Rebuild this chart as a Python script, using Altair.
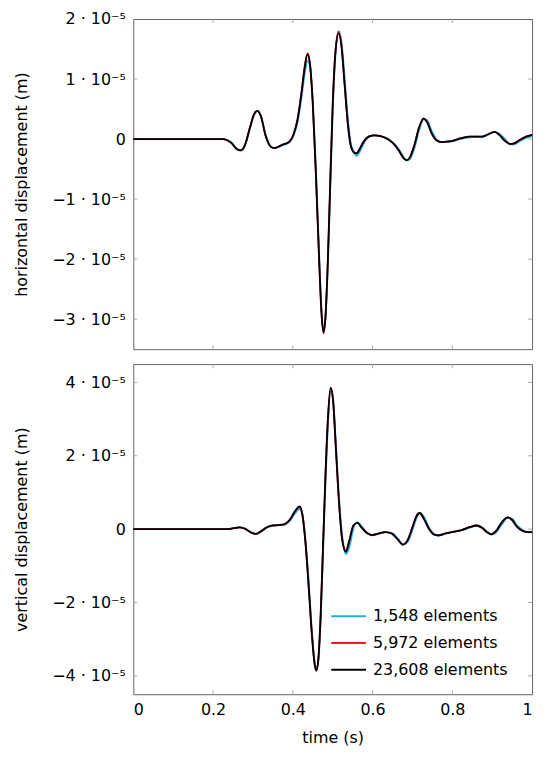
import altair as alt
import pandas as pd

FONT = "DejaVu Sans"
W, H = 401, 332

# series names and colours
names = ["1,548 elements", "5,972 elements", "23,608 elements"]
colors = ["#1fb0ec", "#ee1c24", "#000000"]

x_ticks = [0, 0.2, 0.4, 0.6, 0.8, 1]

# ---- horizontal displacement (values in units of 1e-5 m) ----
th = [0.0, 0.1, 0.2, 0.225, 0.245, 0.26, 0.269, 0.28, 0.292, 0.302,
      0.311, 0.32, 0.332, 0.345, 0.354, 0.372, 0.392, 0.402, 0.412, 0.422,
      0.43, 0.437, 0.443, 0.45, 0.458, 0.466, 0.472, 0.477, 0.482, 0.488,
      0.494, 0.5, 0.507, 0.515, 0.522, 0.53, 0.538, 0.545, 0.553, 0.56,
      0.568, 0.578, 0.59, 0.605, 0.62, 0.635, 0.65, 0.665, 0.678, 0.686,
      0.694, 0.705, 0.716, 0.728, 0.737, 0.748, 0.76, 0.773, 0.79, 0.805,
      0.82, 0.844, 0.86, 0.873, 0.89, 0.906, 0.918, 0.932, 0.945, 0.955,
      0.97, 0.985, 1.0]
h_black = [0, 0, 0, 0, -0.06, -0.17, -0.19, -0.10, 0.18, 0.40,
           0.47, 0.38, 0.05, -0.13, -0.15, -0.10, -0.04, 0.08, 0.33, 0.78,
           1.20, 1.41, 1.25, 0.60, -0.60, -2.00, -2.90, -3.22, -2.95, -2.00,
           -0.70, 0.55, 1.45, 1.76, 1.55, 0.90, 0.25, -0.10, -0.22, -0.24,
           -0.16, -0.04, 0.04, 0.06, 0.05, 0.01, -0.06, -0.18, -0.32, -0.35,
           -0.30, -0.10, 0.18, 0.34, 0.28, 0.10, -0.02, -0.05, -0.04, -0.02,
           0.01, 0.04, 0.04, 0.04, 0.08, 0.12, 0.07, -0.03, -0.08, -0.07,
           -0.01, 0.04, 0.07]
h_red = [0, 0, 0, 0, -0.06, -0.17, -0.19, -0.10, 0.18, 0.40,
         0.47, 0.38, 0.05, -0.13, -0.15, -0.10, -0.04, 0.08, 0.33, 0.79,
         1.22, 1.43, 1.26, 0.60, -0.60, -2.00, -2.91, -3.24, -2.96, -2.00,
         -0.70, 0.56, 1.47, 1.79, 1.57, 0.91, 0.26, -0.10, -0.22, -0.24,
         -0.16, -0.04, 0.04, 0.06, 0.05, 0.01, -0.06, -0.18, -0.32, -0.35,
         -0.30, -0.10, 0.18, 0.34, 0.28, 0.10, -0.02, -0.05, -0.04, -0.02,
         0.01, 0.04, 0.04, 0.04, 0.08, 0.12, 0.07, -0.03, -0.08, -0.07,
         -0.01, 0.04, 0.07]
h_cyan = [0, 0, 0, 0, -0.05, -0.16, -0.19, -0.11, 0.16, 0.39,
          0.47, 0.39, 0.07, -0.12, -0.15, -0.11, -0.05, 0.06, 0.28, 0.70,
          1.10, 1.30, 1.22, 0.66, -0.50, -1.92, -2.85, -3.20, -2.98, -2.08,
          -0.82, 0.45, 1.40, 1.80, 1.62, 1.02, 0.35, -0.05, -0.22, -0.28,
          -0.21, -0.07, 0.03, 0.06, 0.05, 0.02, -0.05, -0.16, -0.30, -0.36,
          -0.33, -0.15, 0.13, 0.33, 0.31, 0.14, 0.00, -0.05, -0.05, -0.03,
          0.00, 0.03, 0.04, 0.03, 0.07, 0.12, 0.09, 0.00, -0.09, -0.09,
          -0.03, 0.02, 0.05]
h_ticks = [-3, -2, -1, 0, 1, 2]
h_domain = [-3.5, 2]

# ---- vertical displacement (values in units of 1e-5 m) ----
tv = [0.0, 0.1, 0.2, 0.235, 0.252, 0.267, 0.28, 0.295, 0.307, 0.32,
      0.335, 0.35, 0.365, 0.378, 0.392, 0.405, 0.417, 0.424, 0.432, 0.44,
      0.448, 0.455, 0.459, 0.464, 0.47, 0.476, 0.482, 0.488, 0.495, 0.501,
      0.508, 0.516, 0.524, 0.533, 0.542, 0.552, 0.562, 0.572, 0.585, 0.599,
      0.615, 0.632, 0.648, 0.663, 0.676, 0.688, 0.7, 0.71, 0.718, 0.728,
      0.742, 0.755, 0.765, 0.785, 0.805, 0.825, 0.845, 0.861, 0.875, 0.889,
      0.898, 0.91, 0.925, 0.939, 0.95, 0.962, 0.977, 0.99, 1.0]
v_black = [0, 0, 0, 0, 0.03, 0.05, 0.01, -0.09, -0.13, -0.06,
           0.05, 0.10, 0.11, 0.13, 0.25, 0.48, 0.62, 0.40, -0.40, -1.60,
           -2.90, -3.70, -3.86, -3.55, -2.30, -0.40, 1.50, 3.00, 3.85, 3.50,
           2.20, 0.70, -0.30, -0.62, -0.30, 0.10, 0.17, 0.05, -0.10, -0.16,
           -0.12, -0.08, -0.12, -0.28, -0.42, -0.30, 0.05, 0.35, 0.44, 0.30,
           0.00, -0.15, -0.17, -0.11, -0.07, -0.02, 0.06, 0.10, 0.03, -0.10,
           -0.14, -0.05, 0.20, 0.32, 0.25, 0.07, -0.05, -0.08, -0.08]
v_red = [0, 0, 0, 0, 0.03, 0.05, 0.01, -0.09, -0.13, -0.06,
         0.05, 0.10, 0.11, 0.13, 0.25, 0.47, 0.60, 0.40, -0.38, -1.58,
         -2.88, -3.69, -3.84, -3.55, -2.32, -0.42, 1.48, 2.98, 3.86, 3.52,
         2.22, 0.72, -0.28, -0.58, -0.30, 0.10, 0.17, 0.05, -0.10, -0.16,
         -0.12, -0.08, -0.12, -0.28, -0.42, -0.30, 0.05, 0.35, 0.44, 0.30,
         0.00, -0.15, -0.17, -0.11, -0.07, -0.02, 0.06, 0.10, 0.03, -0.10,
         -0.14, -0.05, 0.20, 0.32, 0.25, 0.07, -0.05, -0.08, -0.08]
v_cyan = [0, 0, 0, 0, 0.03, 0.05, 0.02, -0.08, -0.13, -0.07,
          0.04, 0.09, 0.11, 0.12, 0.22, 0.42, 0.55, 0.40, -0.30, -1.45,
          -2.80, -3.65, -3.82, -3.60, -2.45, -0.60, 1.30, 2.85, 3.80, 3.55,
          2.35, 0.85, -0.18, -0.68, -0.48, 0.02, 0.19, 0.09, -0.08, -0.17,
          -0.13, -0.08, -0.10, -0.25, -0.42, -0.35, -0.02, 0.30, 0.45, 0.35,
          0.04, -0.14, -0.18, -0.12, -0.07, -0.03, 0.05, 0.10, 0.05, -0.08,
          -0.15, -0.09, 0.14, 0.31, 0.29, 0.11, -0.03, -0.09, -0.09]
v_ticks = [-4, -2, 0, 2, 4]
v_domain = [-4.5, 4.5]

LABEL_EXPR = ("datum.value == 0 ? '0' : "
              "replace(format(round(datum.value * 1e5), 'd'), '-', '\u2212') + ' \u00b7 10\u207b\u2075'")


def panel(t, series, yticks, ydom, ytitle, bottom):
    rows = []
    for k, (name, vals) in enumerate(zip(names, series)):
        for ti, vi in zip(t, vals):
            rows.append({"t": ti, "u": vi * 1e-5, "mesh": name, "k": k})
    df = pd.DataFrame(rows)

    xscale = alt.Scale(domain=[0, 1], nice=False, zero=False)
    yscale = alt.Scale(domain=[ydom[0] * 1e-5, ydom[1] * 1e-5], nice=False, zero=False)

    if bottom:
        xaxis = alt.Axis(values=x_ticks, format="~g", tickSize=0, domain=False, grid=False,
                         labelPadding=7, title="time (s)", titlePadding=13)
        legend = alt.Legend(orient="none", legendX=198, legendY=235, title=None,
                            symbolType="stroke", symbolSize=1225, symbolStrokeWidth=2,
                            labelFontSize=16, labelFont=FONT, labelColor="black",
                            labelOffset=6, rowPadding=-10, padding=0)
    else:
        xaxis = alt.Axis(values=x_ticks, labels=False, ticks=False, domain=False, grid=False,
                         title=None)
        legend = None

    yaxis = alt.Axis(values=[v * 1e-5 for v in yticks], labelExpr=LABEL_EXPR, tickSize=0,
                     domain=False, grid=False, labelPadding=8, title=ytitle, titlePadding=22)

    cscale = alt.Scale(domain=names, range=colors)
    lines = (
        alt.Chart(df)
        .mark_line(strokeWidth=1.8, interpolate="monotone")
        .encode(
            x=alt.X("t:Q", scale=xscale, axis=xaxis),
            y=alt.Y("u:Q", scale=yscale, axis=yaxis),
            color=alt.Color("mesh:N", scale=cscale, legend=legend),
            detail="k:O",
            order="t:Q",
        )
    )

    # inward tick marks (pgfplots style) on all four sides
    xt = pd.DataFrame({"t": x_ticks[1:-1]})
    yt_vals = [v * 1e-5 for v in yticks if ydom[0] < v < ydom[1]]
    yt = pd.DataFrame({"u": yt_vals})
    tick_col = "#aaaaaa"
    top_t = alt.Chart(xt).mark_rule(color=tick_col, strokeWidth=1).encode(
        x=alt.X("t:Q", scale=xscale, axis=xaxis), y=alt.value(0), y2=alt.value(4))
    bot_t = alt.Chart(xt).mark_rule(color=tick_col, strokeWidth=1).encode(
        x=alt.X("t:Q", scale=xscale, axis=xaxis), y=alt.value(H - 4), y2=alt.value(H))
    left_t = alt.Chart(yt).mark_rule(color=tick_col, strokeWidth=1).encode(
        y=alt.Y("u:Q", scale=yscale, axis=yaxis), x=alt.value(0), x2=alt.value(4))
    right_t = alt.Chart(yt).mark_rule(color=tick_col, strokeWidth=1).encode(
        y=alt.Y("u:Q", scale=yscale, axis=yaxis), x=alt.value(W - 4), x2=alt.value(W))

    return alt.layer(top_t, bot_t, left_t, right_t, lines).properties(width=W, height=H)


top = panel(th, [h_cyan, h_red, h_black], h_ticks, h_domain, "horizontal displacement (m)", False)
bot = panel(tv, [v_cyan, v_red, v_black], v_ticks, v_domain, "vertical displacement (m)", True)

chart = (
    alt.vconcat(top, bot, spacing=13)
    .resolve_scale(x="independent", y="independent", color="independent")
    .resolve_legend(color="independent")
    .properties(padding={"left": 5, "top": 0, "right": 5, "bottom": 0})
    .configure_view(stroke="#666666", strokeWidth=1)
    .configure_axis(labelFont=FONT, labelFontSize=16, labelColor="black",
                    titleFont=FONT, titleFontSize=16, titleFontWeight="normal", titleColor="black")
    .configure_legend(labelFont=FONT, labelFontSize=16)
)

chart.save("out.html", embed_options={"renderer": "svg", "actions": False})
